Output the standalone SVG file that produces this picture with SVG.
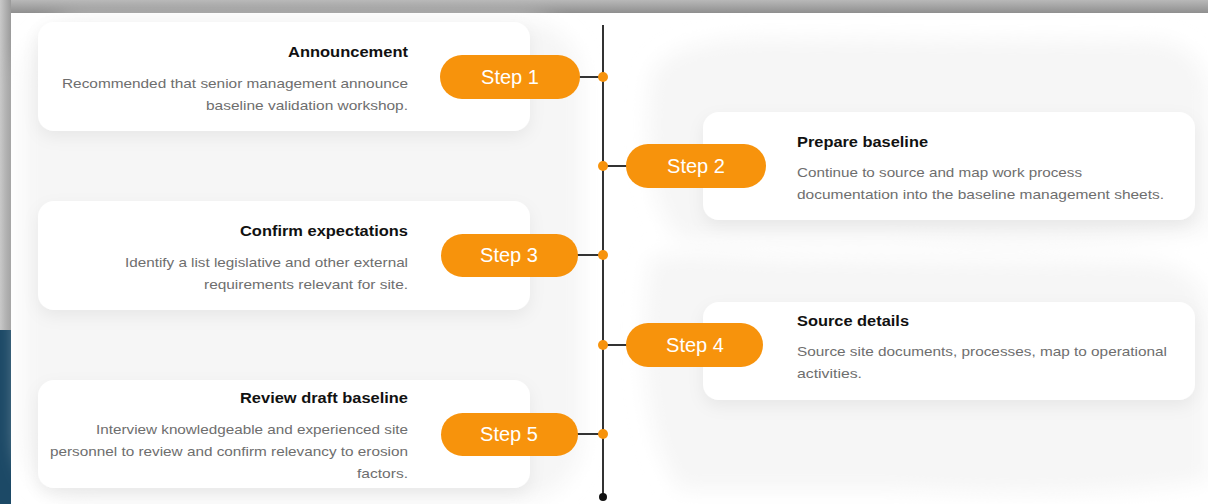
<svg xmlns="http://www.w3.org/2000/svg" width="1208" height="504" viewBox="0 0 1208 504">
  <defs>
    <linearGradient id="topband" x1="0" y1="0" x2="0" y2="1">
      <stop offset="0" stop-color="#b8b8b8"/>
      <stop offset="1" stop-color="#8f8f8f"/>
    </linearGradient>
    <linearGradient id="leftband" x1="0" y1="0" x2="1" y2="0">
      <stop offset="0" stop-color="#c9c9c9"/>
      <stop offset="1" stop-color="#9a9a9a"/>
    </linearGradient>
    <filter id="soft" x="-10%" y="-20%" width="120%" height="150%">
      <feDropShadow dx="0" dy="6" stdDeviation="8" flood-color="#000" flood-opacity="0.06"/>
    </filter>
    <filter id="blur" x="-20%" y="-20%" width="140%" height="140%">
      <feGaussianBlur stdDeviation="10"/>
    </filter>
  </defs>
  <style>
    .card { fill: #ffffff; filter: url(#soft); }
    .title { font-family: "Liberation Sans", Arial, sans-serif; font-size: 14.5px; font-weight: bold; fill: #111111; }
    .desc { font-family: "Liberation Sans", Arial, sans-serif; font-size: 13px; fill: #6e6e6e; }
    .pill { fill: #f7930c; }
    .steptxt { font-family: "Liberation Sans", Arial, sans-serif; font-size: 20px; fill: #ffffff; text-anchor: middle; }
    .conn { stroke: #333333; stroke-width: 2; fill: none; }
    .dot { fill: #f7930c; }
    .bgshape { fill: #f6f6f6; }
  </style>

  <!-- frame -->
  <rect x="0" y="0" width="1208" height="504" fill="#ffffff"/>
  <rect x="0" y="0" width="1208" height="13" fill="url(#topband)"/>
  <rect x="0" y="0" width="11" height="330" fill="url(#leftband)"/>
  <rect x="0" y="330" width="11" height="174" fill="#1c4966"/>
  <rect x="11" y="13" width="1197" height="491" fill="#ffffff"/>

  <!-- faint background shapes -->
  <g filter="url(#blur)">
    <rect class="bgshape" x="22" y="20" width="560" height="480" rx="60"/>
    <path class="bgshape" d="M650 80 Q660 40 760 38 L1150 40 Q1200 42 1208 90 L1208 230 Q1100 250 900 240 L680 240 Q640 200 650 80 Z"/>
    <path class="bgshape" d="M650 260 Q660 250 760 258 L1150 262 Q1208 270 1208 320 L1208 480 Q1100 500 900 490 L680 490 Q630 420 650 260 Z"/>
  </g>

  <!-- connectors -->
  <g id="connectors">
    <line class="conn" x1="603" y1="25" x2="603" y2="497"/>
    <circle cx="603" cy="497" r="4" fill="#111111"/>
    <line class="conn" x1="578" y1="77" x2="603" y2="77"/>
    <line class="conn" x1="603" y1="166" x2="628" y2="166"/>
    <line class="conn" x1="576" y1="255" x2="603" y2="255"/>
    <line class="conn" x1="603" y1="345" x2="628" y2="345"/>
    <line class="conn" x1="576" y1="434" x2="603" y2="434"/>
    <circle class="dot" cx="603" cy="77" r="5"/>
    <circle class="dot" cx="603" cy="166" r="5"/>
    <circle class="dot" cx="603" cy="255" r="5"/>
    <circle class="dot" cx="603" cy="345" r="5"/>
    <circle class="dot" cx="603" cy="434" r="5"/>
  </g>

  <!-- Step 1 -->
  <g id="node-announcement">
    <rect class="card" x="38" y="22" width="492" height="109" rx="16"/>
    <text class="title" x="408" y="57" text-anchor="end" textLength="120" lengthAdjust="spacingAndGlyphs">Announcement</text>
    <text class="desc" x="408" y="88" text-anchor="end" textLength="346" lengthAdjust="spacingAndGlyphs">Recommended that senior management announce</text>
    <text class="desc" x="408" y="110" text-anchor="end" textLength="202" lengthAdjust="spacingAndGlyphs">baseline validation workshop.</text>
  </g>
  <g id="step1">
    <rect class="pill" x="440" y="55" width="140" height="44" rx="22"/>
    <text class="steptxt" x="510" y="84">Step 1</text>
  </g>

  <!-- Step 2 -->
  <g id="node-prepare">
    <rect class="card" x="703" y="112" width="492" height="108" rx="16"/>
    <text class="title" x="797" y="147" textLength="131" lengthAdjust="spacingAndGlyphs">Prepare baseline</text>
    <text class="desc" x="797" y="177" textLength="285" lengthAdjust="spacingAndGlyphs">Continue to source and map work process</text>
    <text class="desc" x="797" y="199" textLength="367" lengthAdjust="spacingAndGlyphs">documentation into the baseline management sheets.</text>
  </g>
  <g id="step2">
    <rect class="pill" x="626" y="144" width="140" height="44" rx="22"/>
    <text class="steptxt" x="696" y="173">Step 2</text>
  </g>

  <!-- Step 3 -->
  <g id="node-confirm">
    <rect class="card" x="38" y="201" width="492" height="109" rx="16"/>
    <text class="title" x="408" y="236" text-anchor="end" textLength="168" lengthAdjust="spacingAndGlyphs">Confirm expectations</text>
    <text class="desc" x="408" y="267" text-anchor="end" textLength="283" lengthAdjust="spacingAndGlyphs">Identify a list legislative and other external</text>
    <text class="desc" x="408" y="289" text-anchor="end" textLength="204" lengthAdjust="spacingAndGlyphs">requirements relevant for site.</text>
  </g>
  <g id="step3">
    <rect class="pill" x="441" y="234" width="137" height="43" rx="21.5"/>
    <text class="steptxt" x="509" y="262">Step 3</text>
  </g>

  <!-- Step 4 -->
  <g id="node-source">
    <rect class="card" x="703" y="302" width="492" height="98" rx="16"/>
    <text class="title" x="797" y="326" textLength="112" lengthAdjust="spacingAndGlyphs">Source details</text>
    <text class="desc" x="797" y="356" textLength="370" lengthAdjust="spacingAndGlyphs">Source site documents, processes, map to operational</text>
    <text class="desc" x="797" y="378" textLength="65" lengthAdjust="spacingAndGlyphs">activities.</text>
  </g>
  <g id="step4">
    <rect class="pill" x="626" y="323" width="137" height="44" rx="22"/>
    <text class="steptxt" x="695" y="352">Step 4</text>
  </g>

  <!-- Step 5 -->
  <g id="node-review">
    <rect class="card" x="38" y="380" width="492" height="108" rx="16"/>
    <text class="title" x="408" y="403" text-anchor="end" textLength="168" lengthAdjust="spacingAndGlyphs">Review draft baseline</text>
    <text class="desc" x="408" y="434" text-anchor="end" textLength="312" lengthAdjust="spacingAndGlyphs">Interview knowledgeable and experienced site</text>
    <text class="desc" x="408" y="456" text-anchor="end" textLength="358" lengthAdjust="spacingAndGlyphs">personnel to review and confirm relevancy to erosion</text>
    <text class="desc" x="408" y="478" text-anchor="end" textLength="51" lengthAdjust="spacingAndGlyphs">factors.</text>
  </g>
  <g id="step5">
    <rect class="pill" x="441" y="413" width="137" height="43" rx="21.5"/>
    <text class="steptxt" x="509" y="441">Step 5</text>
  </g>
</svg>
